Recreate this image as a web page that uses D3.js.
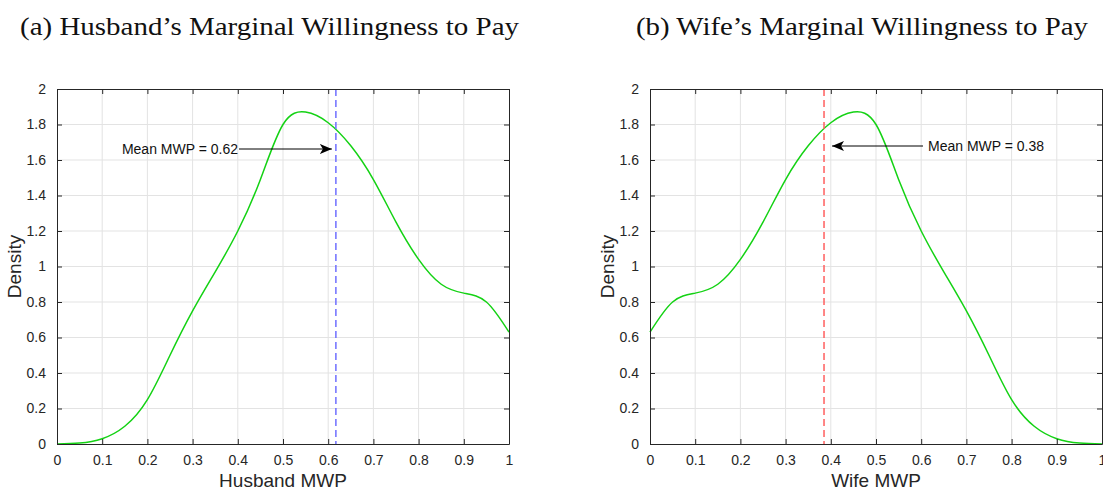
<!DOCTYPE html>
<html>
<head>
<meta charset="utf-8">
<script src="https://cdn.jsdelivr.net/npm/d3@7"></script>
<style>
  body { margin: 0; background: #fff; }
  svg { display: block; }
</style>
</head>
<body>
<div id="chart"></div>
<script>
// x grid of the density estimates
const mwpGrid = [0, 0.05, 0.1, 0.15, 0.2, 0.25, 0.3, 0.35, 0.4, 0.45, 0.5,
                 0.55, 0.6, 0.65, 0.7, 0.75, 0.8, 0.85, 0.9, 0.95, 1];
const husbandDensity = [0, 0.005, 0.03, 0.10, 0.25, 0.50, 0.75, 0.97, 1.20, 1.49, 1.80,
                        1.87, 1.81, 1.68, 1.49, 1.25, 1.04, 0.90, 0.85, 0.80, 0.63];
const wifeDensity = [0.63, 0.80, 0.85, 0.90, 1.04, 1.25, 1.49, 1.68, 1.81, 1.87, 1.80,
                     1.49, 1.20, 0.97, 0.75, 0.50, 0.25, 0.10, 0.03, 0.005, 0];
const meanMWP = [0.617, 0.385];
const meanLabels = ["Mean MWP = 0.62", "Mean MWP = 0.38"];
const titles = ["(a) Husband\u2019s Marginal Willingness to Pay", "(b) Wife\u2019s Marginal Willingness to Pay"];
const xLabels = ["Husband MWP", "Wife MWP"];
const xTicks = [0, 0.1, 0.2, 0.3, 0.4, 0.5, 0.6, 0.7, 0.8, 0.9, 1];
const yTicks = [0, 0.2, 0.4, 0.6, 0.8, 1, 1.2, 1.4, 1.6, 1.8, 2];

const width = 1103, height = 490;
const svg = d3.select("#chart").append("svg")
  .attr("width", width).attr("height", height);

const sans = "'Liberation Sans', Arial, sans-serif";

const panels = [
  { left: 57, top: 89, w: 452, h: 355, dens: husbandDensity, mean: meanMWP[0], meanColor: "#6f6fff",
    title: titles[0], titleX: 20, titleLen: 499, xLabel: xLabels[0], label: meanLabels[0],
    arrowY: 149, arrowFrom: 239, labelSide: "left" },
  { left: 650, top: 89, w: 452, h: 355, dens: wifeDensity, mean: meanMWP[1], meanColor: "#ff5f5f",
    title: titles[1], titleX: 636, titleLen: 452, xLabel: xLabels[1], label: meanLabels[1],
    arrowY: 146, arrowFrom: 923, labelSide: "right" }
];

// arrowhead marker
svg.append("defs").append("marker")
  .attr("id", "arrow")
  .attr("viewBox", "0 0 12 10")
  .attr("refX", 12).attr("refY", 5)
  .attr("markerWidth", 12).attr("markerHeight", 10)
  .attr("markerUnits", "userSpaceOnUse")
  .attr("orient", "auto")
  .append("path")
  .attr("d", "M0,0 L12,5 L0,10 L3,5 Z")
  .attr("fill", "#000");

panels.forEach(p => {
  const x = d3.scaleLinear().domain([0, 1]).range([0, p.w]);
  const y = d3.scaleLinear().domain([0, 2]).range([p.h, 0]);
  const g = svg.append("g").attr("transform", `translate(${p.left},${p.top})`);

  // title
  svg.append("text")
    .attr("x", p.titleX).attr("y", 35)
    .attr("textLength", p.titleLen)
    .attr("lengthAdjust", "spacingAndGlyphs")
    .style("font-family", "'Liberation Serif', 'DejaVu Serif', serif")
    .style("font-size", "26px")
    .style("fill", "#111")
    .text(p.title);

  // grid
  g.append("g").selectAll("line").data(xTicks.slice(1, -1)).enter().append("line")
    .attr("x1", d => x(d)).attr("x2", d => x(d))
    .attr("y1", 0).attr("y2", p.h)
    .attr("stroke", "#e3e3e3").attr("stroke-width", 1);
  g.append("g").selectAll("line").data(yTicks.slice(1, -1)).enter().append("line")
    .attr("y1", d => y(d)).attr("y2", d => y(d))
    .attr("x1", 0).attr("x2", p.w)
    .attr("stroke", "#e3e3e3").attr("stroke-width", 1);

  // density curve
  const line = d3.line()
    .x((d, i) => x(mwpGrid[i]))
    .y(d => y(d))
    .curve(d3.curveNatural);
  g.append("path")
    .datum(p.dens)
    .attr("d", line)
    .attr("fill", "none")
    .attr("stroke", "#14d214")
    .attr("stroke-width", 1.5);

  // mean line
  g.append("line")
    .attr("x1", x(p.mean)).attr("x2", x(p.mean))
    .attr("y1", 0).attr("y2", p.h)
    .attr("stroke", p.meanColor)
    .attr("stroke-width", 1.5)
    .attr("stroke-dasharray", "7,4");

  // axes (MATLAB style box with inward ticks)
  const tickFont = g => g.selectAll("text")
    .style("font-family", sans)
    .style("font-size", "14px")
    .style("fill", "#262626");
  const axisStyle = g => {
    g.select(".domain").attr("stroke", "#262626");
    g.selectAll(".tick line").attr("stroke", "#262626");
  };
  g.append("g").attr("transform", `translate(0,${p.h})`)
    .call(d3.axisBottom(x).tickValues(xTicks).tickSize(-5).tickSizeOuter(0).tickPadding(11).tickFormat(d3.format("")))
    .call(tickFont).call(axisStyle);
  g.append("g")
    .call(d3.axisTop(x).tickValues(xTicks).tickSize(-5).tickSizeOuter(0).tickFormat(""))
    .call(axisStyle);
  g.append("g")
    .call(d3.axisLeft(y).tickValues(yTicks).tickSize(-5).tickSizeOuter(0).tickPadding(11).tickFormat(d3.format("")))
    .call(tickFont).call(axisStyle);
  g.append("g").attr("transform", `translate(${p.w},0)`)
    .call(d3.axisRight(y).tickValues(yTicks).tickSize(-5).tickSizeOuter(0).tickFormat(""))
    .call(axisStyle);

  // axis labels
  g.append("text")
    .attr("x", p.w / 2).attr("y", p.h + 43)
    .attr("text-anchor", "middle")
    .style("font-family", sans)
    .style("font-size", "19px")
    .style("fill", "#262626")
    .text(p.xLabel);
  g.append("text")
    .attr("transform", "rotate(-90)")
    .attr("x", -p.h / 2).attr("y", -36)
    .attr("text-anchor", "middle")
    .style("font-family", sans)
    .style("font-size", "19px")
    .style("fill", "#262626")
    .text("Density");

  // annotation arrow
  const tipX = p.left + x(p.mean) + (p.labelSide === "left" ? -4 : 8);
  svg.append("line")
    .attr("x1", p.arrowFrom).attr("y1", p.arrowY)
    .attr("x2", tipX).attr("y2", p.arrowY)
    .attr("stroke", "#000").attr("stroke-width", 1)
    .attr("marker-end", "url(#arrow)");
  svg.append("text")
    .attr("x", p.labelSide === "left" ? p.arrowFrom - 1 : p.arrowFrom + 5)
    .attr("y", p.arrowY + 5)
    .attr("text-anchor", p.labelSide === "left" ? "end" : "start")
    .style("font-family", sans)
    .style("font-size", "14px")
    .style("fill", "#111")
    .text(p.label);
});
</script>
</body>
</html>
